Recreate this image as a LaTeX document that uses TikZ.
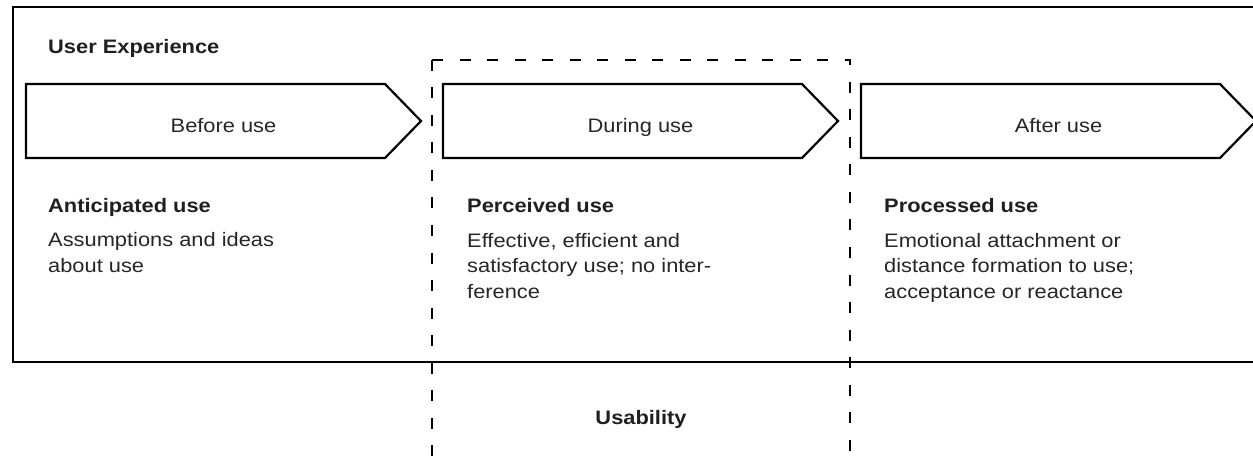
\documentclass[tikz,border=0pt]{standalone}
\usepackage{fontspec}
\setmainfont{Liberation Sans}[FakeStretch=1.12]
\begin{document}
\begin{tikzpicture}[x=1pt,y=-1pt,
  frame/.style={draw=black,line width=2.6pt},
  phase/.style={draw=black,line width=2.2pt,fill=white,line join=miter},
  usabox/.style={draw=black,line width=2.5pt,dash pattern=on 11pt off 16.5pt},
  titletext/.style={anchor=base west,inner sep=0pt,font=\fontsize{19.5}{22}\selectfont\bfseries,text=black!88},
  headtext/.style={anchor=base west,inner sep=0pt,font=\fontsize{19.5}{26}\selectfont\bfseries,text=black!88},
  bodytext/.style={anchor=base west,inner sep=0pt,align=left,font=\fontsize{19.5}{25.5}\selectfont,text=black!85},
  phasetext/.style={anchor=base,inner sep=0pt,font=\fontsize{19.5}{24}\selectfont,text=black!85}]

\useasboundingbox (0,0) rectangle (1253,457);
\clip (0,0) rectangle (1253,457);
\fill[white] (0,0) rectangle (1253,457);

% usability region (dashed), both sides dashed from the top corners
\coordinate (usatl) at (432,60);
\coordinate (usatr) at (850,60);
\draw[usabox] (usatl) -- (432,490);
\draw[usabox] (usatl) -- (usatr) -- (850,490);

% user experience frame
\draw[frame] (13,7) rectangle (1280,362);

% phase arrows
\foreach \l/\name in {26/before,443/during,861/after}{
  \draw[phase] (\l,84) -- ++(359,0) -- ++(36,37) -- ++(-36,37) -- ++(-359,0) -- cycle;
  \coordinate (\name c) at (\l+197.5,132.5);
}

\node[titletext] (ux) at (48,54) {User Experience};

\node[phasetext] (before) at (beforec) {Before use};
\node[phasetext] (during) at (duringc) {During use};
\node[phasetext] (after)  at (afterc)  {After use};

% multi-line texts are anchored at the baseline of their last line
\node[headtext] (antic) at (48,213) {Anticipated use};
\node[bodytext] (anticb) at (48,272.5) {Assumptions and ideas\\about use};

\node[headtext] (perc) at (467,213) {Perceived use};
\node[bodytext] (percb) at (467,298) {Effective, efficient and\\satisfactory use; no inter-\\ference};

\node[headtext] (proc) at (884,213) {Processed use};
\node[bodytext] (procb) at (884,298) {Emotional attachment or\\distance formation to use;\\acceptance or reactance};

\node[headtext,anchor=base] (usab) at (641,424) {Usability};
\end{tikzpicture}
\end{document}
